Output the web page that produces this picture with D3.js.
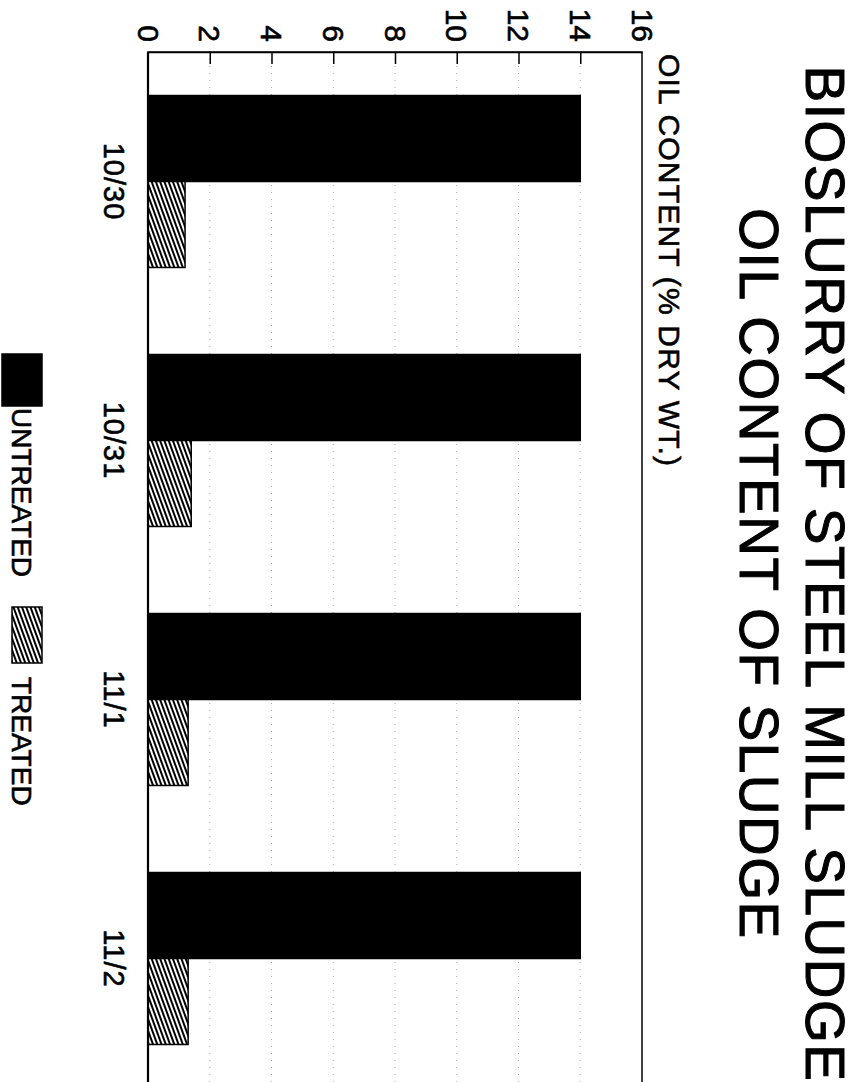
<!DOCTYPE html>
<html>
<head>
<meta charset="utf-8">
<script src="https://cdn.jsdelivr.net/npm/d3@7"></script>
<style>
  html, body { margin: 0; padding: 0; background: #fff; }
  svg { display: block; }
  text { font-family: "Liberation Sans", Arial, Helvetica, sans-serif; fill: #000; stroke: #000; stroke-width: 0.6px; }
</style>
</head>
<body>
<svg id="chart" width="859" height="1082"></svg>
<script>
// Sampling dates and oil content (% dry wt.) for each sludge batch
const categories = ["10/30", "10/31", "11/1", "11/2"];
const seriesNames = ["UNTREATED", "TREATED"];
const untreatedValues = [14, 14, 14, 14];
const treatedValues = [1.2, 1.4, 1.3, 1.3];
const valueTicks = [0, 2, 4, 6, 8, 10, 12, 14, 16];
const titleLines = ["BIOSLURRY OF STEEL MILL SLUDGE", "OIL CONTENT OF SLUDGE"];
const axisTitle = "OIL CONTENT (% DRY WT.)";

const svg = d3.select("#chart");

// Page is laid out sideways: value axis runs left-to-right, dates run down the page
const frame = { left: 148, right: 642, top: 52, bottom: 1088 };

const x = d3.scaleLinear().domain([0, 16]).range([frame.left, frame.right]);
const y = d3.scaleBand().domain(categories)
  .range([frame.top, frame.bottom])
  .paddingInner(0.336).paddingOuter(0.168);
const ySub = d3.scaleBand().domain(seriesNames).range([0, y.bandwidth()]);

const rows = categories.map((c, i) => ({
  date: c,
  values: [
    { series: "UNTREATED", value: untreatedValues[i] },
    { series: "TREATED", value: treatedValues[i] }
  ]
}));

// Diagonal hatching for the treated series
const defs = svg.append("defs");
const pat = defs.append("pattern")
  .attr("id", "hatch")
  .attr("patternUnits", "userSpaceOnUse")
  .attr("width", 4).attr("height", 4)
  .attr("patternTransform", "rotate(-20)");
pat.append("rect").attr("width", 4).attr("height", 4).attr("fill", "#fff");
pat.append("line").attr("x1", 1).attr("y1", 0).attr("x2", 1).attr("y2", 4)
  .attr("stroke", "#000").attr("stroke-width", 2);

const fillFor = s => s === "UNTREATED" ? "#000" : "url(#hatch)";

// Faint dotted gridlines
svg.append("g")
  .selectAll("line")
  .data(valueTicks.filter(v => v > 0 && v < 16))
  .join("line")
  .attr("x1", d => x(d)).attr("x2", d => x(d))
  .attr("y1", frame.top).attr("y2", frame.bottom)
  .attr("stroke", "#aaa").attr("stroke-width", 1)
  .attr("stroke-dasharray", "1,6");

// Bars
const groups = svg.append("g")
  .selectAll("g")
  .data(rows)
  .join("g")
  .attr("transform", d => `translate(0,${y(d.date)})`);

groups.selectAll("rect")
  .data(d => d.values)
  .join("rect")
  .attr("x", x(0))
  .attr("y", d => ySub(d.series))
  .attr("width", d => x(d.value) - x(0))
  .attr("height", ySub.bandwidth())
  .attr("fill", d => fillFor(d.series))
  .attr("stroke", "#000")
  .attr("stroke-width", 1.5);

// Plot frame
svg.append("rect")
  .attr("x", frame.left).attr("y", frame.top)
  .attr("width", frame.right - frame.left)
  .attr("height", frame.bottom - frame.top)
  .attr("fill", "none").attr("stroke", "#000").attr("stroke-width", 1.5);
svg.append("line")
  .attr("x1", frame.left).attr("x2", frame.left)
  .attr("y1", frame.top).attr("y2", frame.bottom)
  .attr("stroke", "#000").attr("stroke-width", 2.2);

// Value axis along the top, ticks pointing into the plot
const axis = d3.axisTop(x)
  .tickValues(valueTicks)
  .tickSizeInner(-12)
  .tickSizeOuter(0)
  .tickFormat(d3.format("d"));

const axisG = svg.append("g")
  .attr("transform", `translate(0,${frame.top})`)
  .call(axis);
axisG.select(".domain").attr("stroke", "#000").attr("stroke-width", 1.5);
axisG.selectAll(".tick line").attr("stroke", "#000").attr("stroke-width", 1.5)
  .filter(d => d === 0 || d === 16).remove();
axisG.selectAll(".tick text")
  .attr("x", null).attr("y", null)
  .attr("dy", "0.36em")
  .attr("text-anchor", "end")
  .attr("transform", "translate(0,-10) rotate(90)")
  .attr("font-size", 30)
  .attr("font-family", "Liberation Sans, Arial, sans-serif")
  .attr("fill", "#000");

// Date labels beside each group
svg.append("g")
  .selectAll("text")
  .data(categories)
  .join("text")
  .attr("transform", d => `translate(104,${y(d) + y.bandwidth() / 2}) rotate(90)`)
  .attr("text-anchor", "middle")
  .attr("font-size", 29)
  .attr("letter-spacing", 1)
  .text(d => d);

// Axis title
svg.append("text")
  .attr("transform", `translate(659,${frame.top + 2}) rotate(90)`)
  .attr("text-anchor", "start")
  .attr("font-size", 30)
  .attr("letter-spacing", 1.2)
  .text(axisTitle);

// Chart title
const titleX = [806, 740];
svg.append("g")
  .selectAll("text")
  .data(titleLines)
  .join("text")
  .attr("transform", (d, i) => `translate(${titleX[i]},574) rotate(90)`)
  .attr("text-anchor", "middle")
  .attr("font-size", 55)
  .attr("letter-spacing", 1.5)
  .style("stroke-width", "1px")
  .text(d => d);

// Legend
const legendItems = [
  { name: seriesNames[0], swatchY: 354, swatchX: 2, swatchW: 40, swatchH: 52, textY: 408 },
  { name: seriesNames[1], swatchY: 607, swatchX: 12, swatchW: 30, swatchH: 56, textY: 677 }
];
const leg = svg.append("g").selectAll("g").data(legendItems).join("g");
leg.append("rect")
  .attr("x", d => d.swatchX).attr("y", d => d.swatchY)
  .attr("width", d => d.swatchW).attr("height", d => d.swatchH)
  .attr("fill", d => fillFor(d.name))
  .attr("stroke", "#000").attr("stroke-width", 1.5);
leg.append("text")
  .attr("transform", d => `translate(12,${d.textY}) rotate(90)`)
  .attr("text-anchor", "start")
  .attr("font-size", 28)
  .text(d => d.name);
</script>
</body>
</html>
